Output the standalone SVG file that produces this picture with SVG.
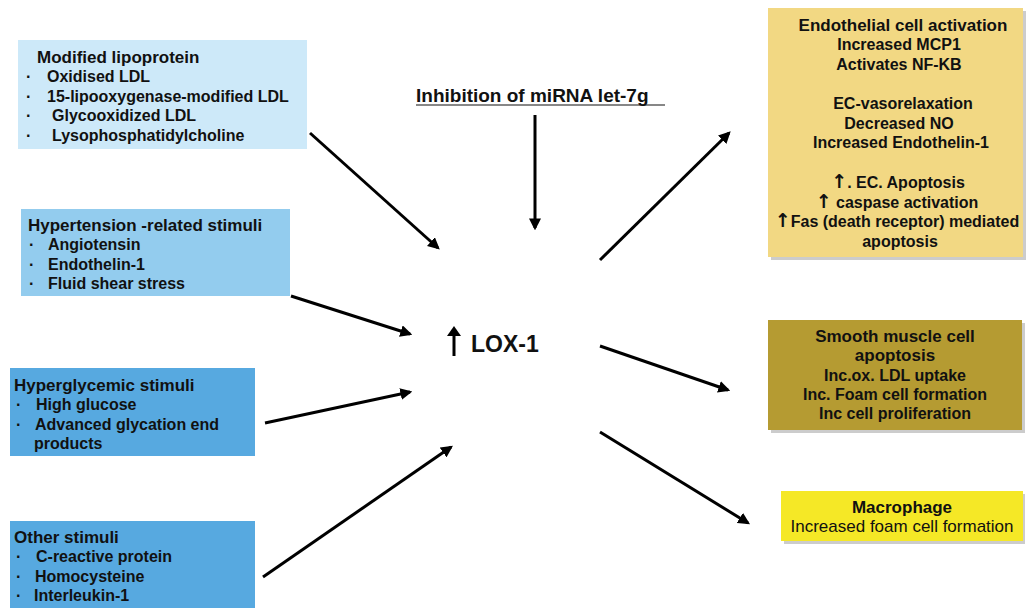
<svg xmlns="http://www.w3.org/2000/svg" width="1026" height="608" viewBox="0 0 1026 608">
<defs>
<style>
.t{font-family:"Liberation Sans",Arial,"DejaVu Sans",sans-serif;font-size:16px;font-weight:bold;fill:#111}
.h{font-size:17px}
.r{font-family:"Liberation Sans",Arial,sans-serif;font-size:17px;fill:#111}
.c{text-anchor:middle}
.ar{font-family:"DejaVu Sans",sans-serif;font-size:19px;font-weight:bold}
.ln{stroke:#000;stroke-width:3;fill:none;marker-end:url(#ah)}
.sh{fill:#999;opacity:0.5}
</style>
<marker id="ah" viewBox="0 0 10 10" refX="8" refY="5" markerWidth="4" markerHeight="4" orient="auto" markerUnits="strokeWidth">
<path d="M0,0 L10,5 L0,10 z" fill="#000"/>
</marker>
</defs>
<rect width="1026" height="608" fill="#fff"/>

<g id="n1">
<rect x="18" y="40" width="289" height="109" fill="#cde9f9"/>
<text class="t h" x="37" y="63">Modified lipoprotein</text>
<text class="t" x="26" y="82">·</text><text class="t" x="47" y="82">Oxidised LDL</text>
<text class="t" x="26" y="102">·</text><text class="t" x="47" y="102">15-lipooxygenase-modified LDL</text>
<text class="t" x="26" y="121">·</text><text class="t" x="52" y="121">Glycooxidized LDL</text>
<text class="t" x="26" y="141">·</text><text class="t" x="52" y="141">Lysophosphatidylcholine</text>
</g>

<g id="n2">
<rect x="21" y="209" width="269" height="87" fill="#93ccee"/>
<text class="t h" x="28" y="231">Hypertension -related stimuli</text>
<text class="t" x="29" y="250">·</text><text class="t" x="48" y="250">Angiotensin</text>
<text class="t" x="29" y="270">·</text><text class="t" x="48" y="270">Endothelin-1</text>
<text class="t" x="29" y="289">·</text><text class="t" x="48" y="289">Fluid shear stress</text>
</g>

<g id="n3">
<rect x="10" y="368" width="245" height="88" fill="#57a9e0"/>
<text class="t h" x="14" y="391">Hyperglycemic stimuli</text>
<text class="t" x="16" y="410">·</text><text class="t" x="36" y="410">High glucose</text>
<text class="t" x="16" y="430">·</text><text class="t" x="35" y="430">Advanced glycation end</text>
<text class="t" x="34" y="449">products</text>
</g>

<g id="n4">
<rect x="10" y="521" width="245" height="87" fill="#57a9e0"/>
<text class="t h" x="14" y="543">Other stimuli</text>
<text class="t" x="16" y="562">·</text><text class="t" x="36" y="562">C-reactive protein</text>
<text class="t" x="16" y="582">·</text><text class="t" x="35" y="582">Homocysteine</text>
<text class="t" x="16" y="601">·</text><text class="t" x="34" y="601">Interleukin-1</text>
</g>

<g id="n5">
<text class="t" x="416" y="102" style="font-size:19px">Inhibition of miRNA let-7g</text>
<line x1="416" y1="105" x2="665" y2="105" stroke="#111" stroke-width="1.2"/>
</g>

<g id="n6">
<line x1="454" y1="356" x2="454" y2="334" stroke="#000" stroke-width="3"/>
<path d="M447,336 L454,326 L461,336 z" fill="#000"/>
<text class="t" x="471" y="352" style="font-size:23px">LOX-1</text>
</g>

<g id="n7">
<rect x="771" y="11" width="255" height="249" class="sh"/>
<rect x="768" y="8" width="255" height="249" fill="#f2d883"/>
<text class="t h c" x="903" y="31">Endothelial cell activation</text>
<text class="t c" x="899" y="50">Increased MCP1</text>
<text class="t c" x="899" y="70">Activates NF-KB</text>
<text class="t c" x="903" y="109">EC-vasorelaxation</text>
<text class="t c" x="899" y="129">Decreased NO</text>
<text class="t c" x="901" y="148">Increased Endothelin-1</text>
<text class="t c" x="898" y="188"><tspan class="ar">↑</tspan>. EC. Apoptosis</text>
<text class="t c" x="897" y="208"><tspan class="ar">↑</tspan> caspase activation</text>
<text class="t c" x="897" y="227"><tspan class="ar">↑</tspan>Fas (death receptor) mediated</text>
<text class="t c" x="900" y="247">apoptosis</text>
</g>

<g id="n8">
<rect x="771" y="323" width="254" height="110" class="sh"/>
<rect x="768" y="320" width="254" height="110" fill="#b59b32"/>
<text class="t h c" x="895" y="342">Smooth muscle cell</text>
<text class="t h c" x="895" y="361">apoptosis</text>
<text class="t c" x="895" y="381">Inc.ox. LDL uptake</text>
<text class="t c" x="895" y="400">Inc. Foam cell formation</text>
<text class="t c" x="895" y="419">Inc cell proliferation</text>
</g>

<g id="n9">
<rect x="784" y="494" width="241" height="50" class="sh"/>
<rect x="781" y="491" width="242" height="50" fill="#f5e826"/>
<text class="t h c" x="902" y="513">Macrophage</text>
<text class="r c" x="902" y="532">Increased foam cell formation</text>
</g>

<g id="connectors">
<line class="ln" x1="310" y1="133" x2="438" y2="248"/>
<line class="ln" x1="291" y1="296" x2="410" y2="334"/>
<line class="ln" x1="265" y1="423" x2="410" y2="392"/>
<line class="ln" x1="263" y1="577" x2="451" y2="447"/>
<line class="ln" x1="535" y1="115" x2="535" y2="228"/>
<line class="ln" x1="600" y1="260" x2="729" y2="133"/>
<line class="ln" x1="600" y1="346" x2="728" y2="390"/>
<line class="ln" x1="600" y1="432" x2="748" y2="523"/>
</g>
</svg>
